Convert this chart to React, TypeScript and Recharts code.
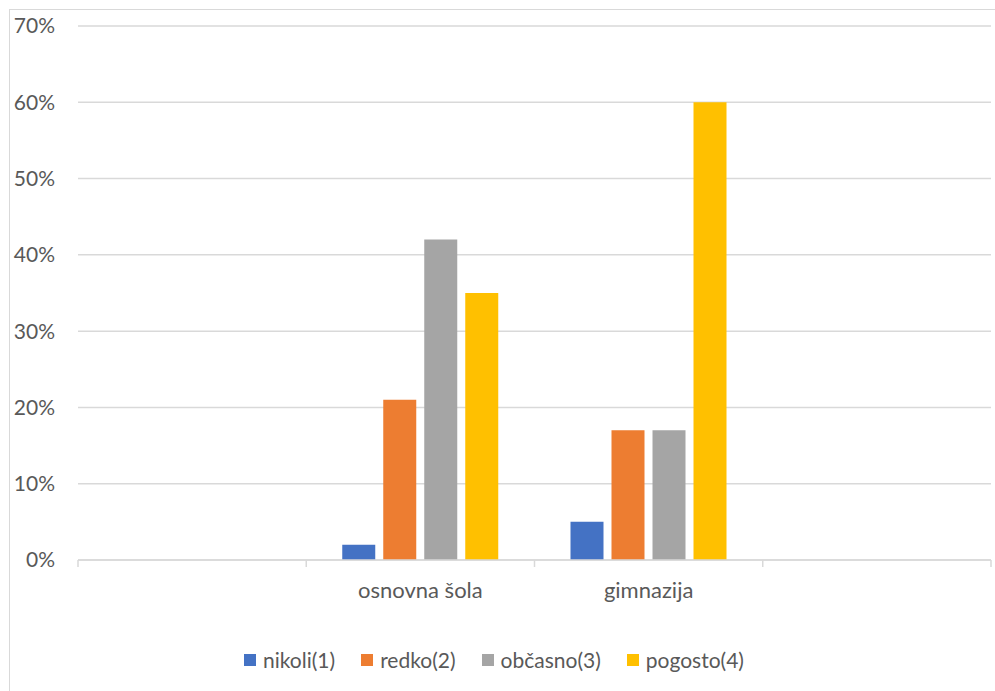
import React from 'react';
import { BarChart, Bar, XAxis, YAxis, CartesianGrid, Legend } from 'recharts';

const categories = ['', 'osnovna šola', 'gimnazija', ''];
const nikoli = [null, 2, 5, null];
const redko = [null, 21, 17, null];
const obcasno = [null, 42, 17, null];
const pogosto = [null, 35, 60, null];
const yTicks = [0, 10, 20, 30, 40, 50, 60, 70];

const series = [
    { key: 'nikoli', name: 'nikoli(1)', color: '#4472C4' },
    { key: 'redko', name: 'redko(2)', color: '#ED7D31' },
    { key: 'obcasno', name: 'občasno(3)', color: '#A5A5A5' },
    { key: 'pogosto', name: 'pogosto(4)', color: '#FFC000' },
];

const data = categories.map((name, i) => ({
    name,
    nikoli: nikoli[i],
    redko: redko[i],
    obcasno: obcasno[i],
    pogosto: pogosto[i],
}));

const CHART_W = 1000;
const CHART_H = 700;
const MARGIN = { top: 16, right: 19, left: 0, bottom: 38 };
const Y_W = 68;
const PLOT_W = CHART_W - MARGIN.left - MARGIN.right - Y_W;
const BAND = PLOT_W / categories.length;
const X_TICK_MARGIN = 22;
const FONT = 'Lato, "Noto Sans", sans-serif';
const TEXT = '#595959';
const LINE = '#d9d9d9';

const XTick = (props: any) => {
    const { x, y, payload, index } = props;
    const axisY = y - X_TICK_MARGIN;
    const last = index === categories.length - 1;
    return (
        <g>
            <line x1={x - BAND / 2} x2={x - BAND / 2} y1={axisY} y2={axisY + 7} stroke={LINE} strokeWidth={1.5} />
            {last && (
                <line x1={x + BAND / 2} x2={x + BAND / 2} y1={axisY} y2={axisY + 7} stroke={LINE} strokeWidth={1.5} />
            )}
            <text x={x} y={y} dy="0.71em" textAnchor="middle" fill={TEXT} fontSize={22} fontFamily={FONT}>
                {payload.value}
            </text>
        </g>
    );
};

const LegendContent = () => (
    <div style={{ display: 'flex', justifyContent: 'center', height: 24, lineHeight: '24px', fontFamily: FONT, fontSize: 21, color: TEXT }}>
        {series.map(s => (
            <div key={s.key} style={{ display: 'flex', alignItems: 'center', margin: '0 13px' }}>
                <span style={{ width: 12, height: 12, background: s.color, marginRight: 7, display: 'inline-block' }} />
                <span>{s.name}</span>
            </div>
        ))}
    </div>
);

export default function App() {
    return (
        <div style={{ position: 'fixed', left: 0, top: 0, width: 995, height: 691, overflow: 'hidden', background: '#fff' }}>
            <div style={{ position: 'absolute', left: 9, top: 9, borderLeft: `1px solid ${LINE}`, borderTop: `1px solid ${LINE}`, width: CHART_W, height: CHART_H }}>
                <BarChart
                    width={CHART_W}
                    height={CHART_H}
                    data={data}
                    margin={MARGIN}
                    barCategoryGap={36}
                    barGap={8}
                >
                    <CartesianGrid vertical={false} stroke={LINE} strokeWidth={1.5} />
                    <XAxis
                        dataKey="name"
                        interval={0}
                        height={88}
                        tickSize={0}
                        tickMargin={X_TICK_MARGIN}
                        tickLine={false}
                        axisLine={{ stroke: LINE, strokeWidth: 1.5 }}
                        tick={<XTick />}
                    />
                    <YAxis
                        width={Y_W}
                        domain={[0, 70]}
                        ticks={yTicks}
                        tickFormatter={(v: number) => `${v}%`}
                        axisLine={false}
                        tickLine={false}
                        tickMargin={17}
                        tick={{ fill: TEXT, fontSize: 21, fontFamily: FONT }}
                    />
                    <Legend
                        verticalAlign="bottom"
                        content={<LegendContent />}
                        wrapperStyle={{ left: 0, width: 968 }}
                    />
                    {series.map(s => (
                        <Bar key={s.key} dataKey={s.key} name={s.name} fill={s.color} isAnimationActive={false} />
                    ))}
                </BarChart>
            </div>
        </div>
    );
}
